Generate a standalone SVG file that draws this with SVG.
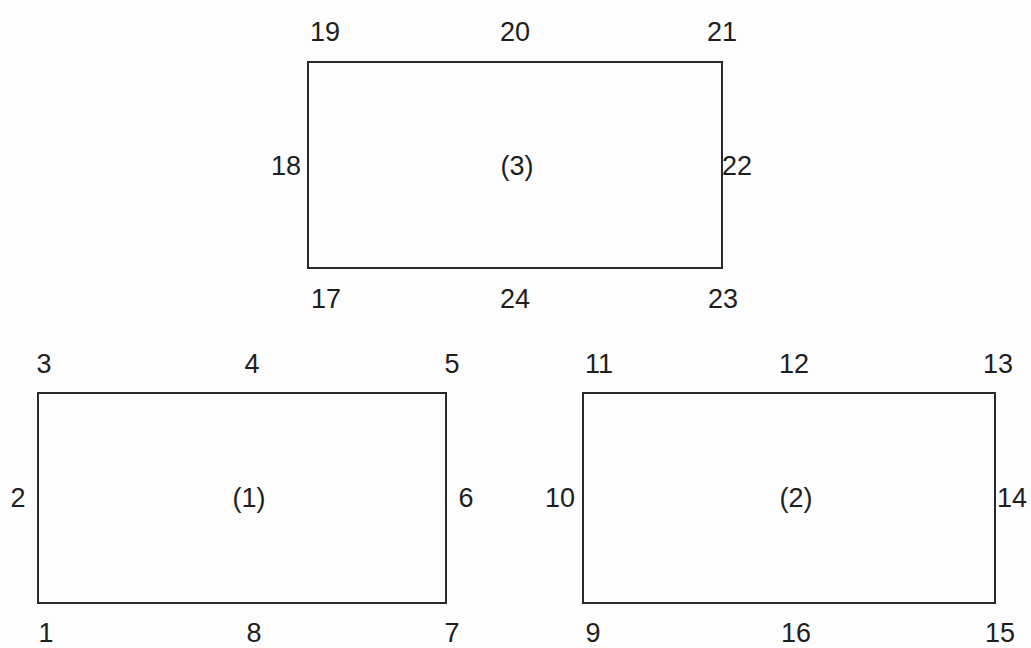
<svg xmlns="http://www.w3.org/2000/svg" width="1031" height="648" viewBox="0 0 1031 648">
<style>
.box{fill:none;stroke:#2a2a2a;stroke-width:2}
text{font-family:"Liberation Sans",Arial,sans-serif;font-size:27px;fill:#1e1e1e;text-anchor:middle}
</style>
<rect width="1031" height="648" fill="#fdfdfd"/>
<g id="connectors"></g>
<g id="region3">
<rect class="box" x="308" y="62" width="414" height="206"/>
<text x="325" y="41">19</text>
<text x="515" y="41">20</text>
<text x="722" y="41">21</text>
<text x="286" y="175">18</text>
<text x="517" y="175">(3)</text>
<text x="737" y="175">22</text>
<text x="326" y="308">17</text>
<text x="515" y="308">24</text>
<text x="723" y="308">23</text>
</g>
<g id="region1">
<rect class="box" x="38" y="393" width="408" height="210"/>
<text x="44" y="373">3</text>
<text x="252" y="373">4</text>
<text x="452" y="373">5</text>
<text x="18" y="507">2</text>
<text x="249" y="507">(1)</text>
<text x="466" y="507">6</text>
<text x="46" y="642">1</text>
<text x="254" y="642">8</text>
<text x="452" y="642">7</text>
</g>
<g id="region2">
<rect class="box" x="583" y="393" width="412" height="210"/>
<text x="599" y="373">11</text>
<text x="794" y="373">12</text>
<text x="998" y="373">13</text>
<text x="560" y="507">10</text>
<text x="796" y="507">(2)</text>
<text x="1012" y="507">14</text>
<text x="593" y="642">9</text>
<text x="796" y="642">16</text>
<text x="1000" y="642">15</text>
</g>
</svg>
